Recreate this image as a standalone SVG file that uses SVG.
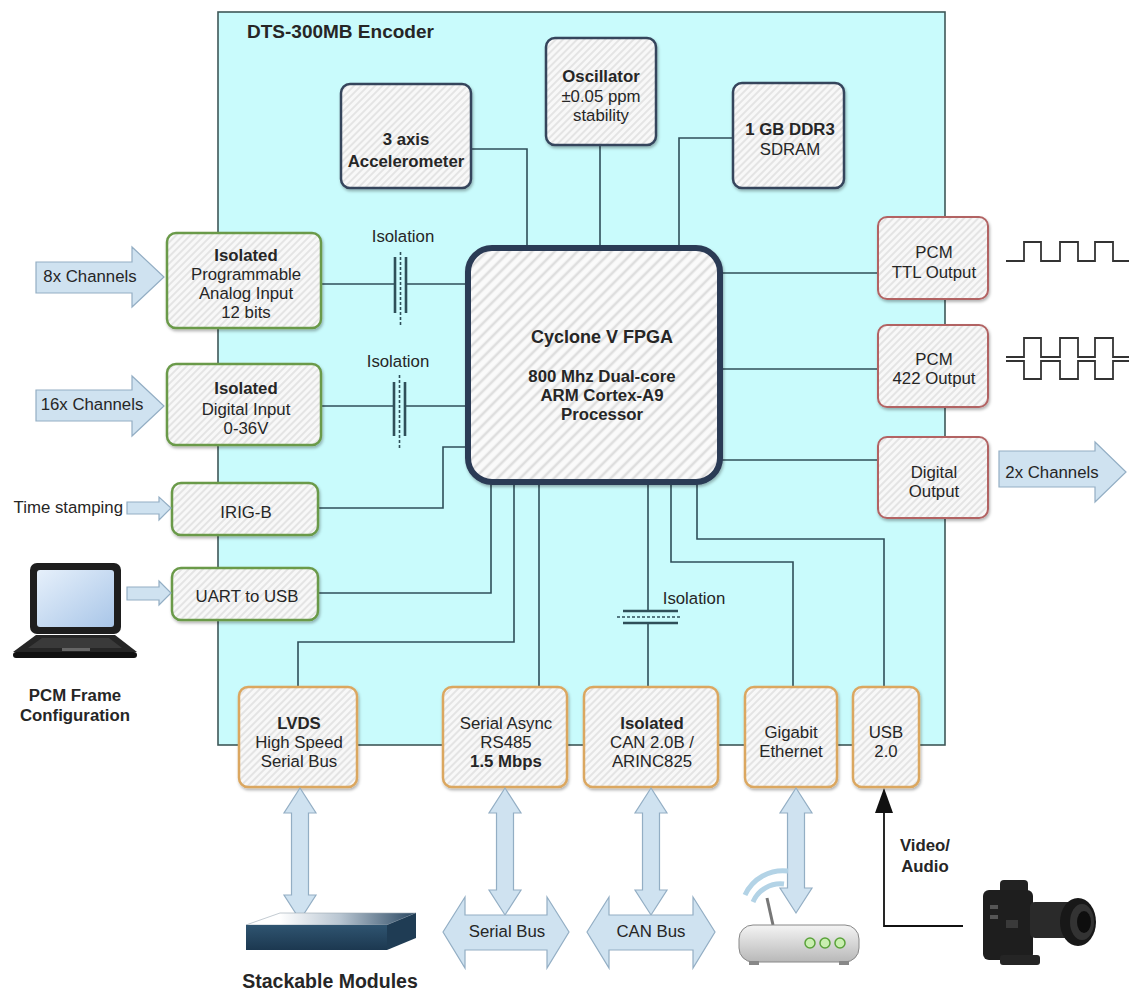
<svg xmlns="http://www.w3.org/2000/svg" width="1129" height="990" viewBox="0 0 1129 990">
<style>
text{font-family:"Liberation Sans",Arial,sans-serif;font-size:16.8px;fill:#262626;text-anchor:middle}
.b{font-weight:bold}
.box{fill:url(#hatch);stroke-width:2.5;filter:url(#sh)}
.top{stroke:#34445c}
.grn{stroke:#6b9a4a}
.red{stroke:#b26464;stroke-width:2}
.org{stroke:#dba760}
.ln{fill:none;stroke:#2f4f59;stroke-width:1.6}
.cap{fill:none;stroke:#2f4f59;stroke-width:2.6}
.dash{fill:none;stroke:#2f4f59;stroke-width:1.6;stroke-dasharray:3 2}
.harr{fill:#cfe2f0;stroke:#93aec4;stroke-width:1.2}
.wave{fill:none;stroke:#333;stroke-width:1.8}
</style>
<defs>
<pattern id="hatch" width="5" height="5" patternUnits="userSpaceOnUse" patternTransform="rotate(45)">
<rect width="5" height="5" fill="#f8f8f8"/><line x1="1" y1="0" x2="1" y2="5" stroke="#dcdcdc" stroke-width="1.4"/>
</pattern>
<pattern id="hatch2" width="8" height="8" patternUnits="userSpaceOnUse" patternTransform="rotate(45)">
<rect width="8" height="8" fill="#fafafa"/><line x1="2" y1="0" x2="2" y2="8" stroke="#dedede" stroke-width="2.6"/>
</pattern>
<filter id="sh" x="-10%" y="-10%" width="125%" height="125%">
<feDropShadow dx="1" dy="2" stdDeviation="1.5" flood-color="#000" flood-opacity="0.3"/>
</filter>
<linearGradient id="scr" x1="0" y1="0" x2="1" y2="1"><stop offset="0" stop-color="#e6f0fb"/><stop offset="1" stop-color="#a9c6e8"/></linearGradient>
<linearGradient id="slabTop" x1="0" y1="0" x2="1" y2="0"><stop offset="0.2" stop-color="#ffffff"/><stop offset="0.55" stop-color="#b9c6d2"/><stop offset="1" stop-color="#2a4862"/></linearGradient>
<linearGradient id="slabFront" x1="0" y1="0" x2="0" y2="1"><stop offset="0" stop-color="#2f5470"/><stop offset="1" stop-color="#1c3850"/></linearGradient>
<linearGradient id="rout" x1="0" y1="0" x2="0" y2="1"><stop offset="0" stop-color="#f4f4f4"/><stop offset="1" stop-color="#b8b8b8"/></linearGradient>
</defs>

<g id="encoder">
<rect x="218" y="12" width="727" height="733" fill="#c9fbfc" stroke="#3f5858" stroke-width="1.6"/>
<text x="247" y="38" class="b" style="text-anchor:start;font-size:19px">DTS-300MB Encoder</text>
</g>

<g id="connectors">
<path class="ln" d="M471,149 H527 V248"/>
<path class="ln" d="M600,145 V248"/>
<path class="ln" d="M733,138 H679 V248"/>
<path class="ln" d="M321,284 H395 M406,284 H468"/>
<path class="cap" d="M395,257 V313 M406,257 V313"/>
<path class="dash" d="M400.5,252 V325"/>
<path class="ln" d="M321,406 H394 M405,406 H468"/>
<path class="cap" d="M394,382 V436 M405,382 V436"/>
<path class="dash" d="M399.5,375 V448"/>
<path class="ln" d="M318,508 H443 V447 H468"/>
<path class="ln" d="M318,593 H491 V482"/>
<path class="ln" d="M514,482 V642 H298 V687"/>
<path class="ln" d="M539,482 V687"/>
<path class="ln" d="M648,482 V611 M648,623 V687"/>
<path class="cap" d="M623,611 H678 M623,623 H678"/>
<path class="dash" d="M617,617 H680"/>
<path class="ln" d="M671,482 V562 H793 V687"/>
<path class="ln" d="M697,482 V539 H884 V687"/>
<path class="ln" d="M720,273 H878"/>
<path class="ln" d="M720,369 H878"/>
<path class="ln" d="M720,460 H878"/>
<text x="403" y="242">Isolation</text>
<text x="398" y="367">Isolation</text>
<text x="694" y="604">Isolation</text>
<path d="M963,926 H884 V812" fill="none" stroke="#111" stroke-width="1.8"/>
<polygon points="884,788 893,813 875,813" fill="#111"/>
</g>

<g id="accelerometer">
<rect class="box top" x="341" y="84" width="130" height="104" rx="9"/>
<text x="406" y="145" class="b">3 axis</text>
<text x="406" y="167" class="b">Accelerometer</text>
</g>
<g id="oscillator">
<rect class="box top" x="546" y="38" width="110" height="107" rx="9"/>
<text x="601" y="82" class="b">Oscillator</text>
<text x="601" y="102">±0.05 ppm</text>
<text x="601" y="121">stability</text>
</g>
<g id="ddr3">
<rect class="box top" x="733" y="83" width="111" height="105" rx="9"/>
<text x="790" y="135" class="b">1 GB DDR3</text>
<text x="790" y="155">SDRAM</text>
</g>
<g id="fpga">
<rect x="468" y="248" width="252" height="234" rx="24" fill="url(#hatch2)" stroke="#2c3a55" stroke-width="6" filter="url(#sh)"/>
<text x="602" y="343" class="b" style="font-size:18px">Cyclone V FPGA</text>
<text x="602" y="382" class="b">800 Mhz Dual-core</text>
<text x="602" y="401" class="b">ARM Cortex-A9</text>
<text x="602" y="420" class="b">Processor</text>
</g>

<g id="analog-input">
<rect class="box grn" x="167" y="233" width="154" height="95" rx="9"/>
<text x="246" y="261" class="b">Isolated</text>
<text x="246" y="280">Programmable</text>
<text x="246" y="299">Analog Input</text>
<text x="246" y="318">12 bits</text>
</g>
<g id="digital-input">
<rect class="box grn" x="167" y="364" width="154" height="81" rx="9"/>
<text x="246" y="394" class="b">Isolated</text>
<text x="246" y="415">Digital Input</text>
<text x="246" y="434">0-36V</text>
</g>
<g id="irig-b">
<rect class="box grn" x="172" y="483" width="146" height="52" rx="9"/>
<text x="246" y="518">IRIG-B</text>
</g>
<g id="uart">
<rect class="box grn" x="172" y="568" width="146" height="52" rx="9"/>
<text x="247" y="602">UART to USB</text>
</g>

<g id="pcm-ttl">
<rect class="box red" x="878" y="217" width="110" height="82" rx="9"/>
<text x="934" y="258">PCM</text>
<text x="934" y="278">TTL Output</text>
</g>
<g id="pcm-422">
<rect class="box red" x="878" y="325" width="110" height="82" rx="9"/>
<text x="934" y="365">PCM</text>
<text x="934" y="384">422 Output</text>
</g>
<g id="digital-output">
<rect class="box red" x="878" y="437" width="110" height="81" rx="9"/>
<text x="934" y="478">Digital</text>
<text x="934" y="497">Output</text>
</g>

<g id="lvds">
<rect class="box org" x="239" y="687" width="118" height="100" rx="9"/>
<text x="299" y="729" class="b">LVDS</text>
<text x="299" y="748">High Speed</text>
<text x="299" y="767">Serial Bus</text>
</g>
<g id="serial-async">
<rect class="box org" x="443" y="687" width="124" height="100" rx="9"/>
<text x="506" y="729">Serial Async</text>
<text x="506" y="748">RS485</text>
<text x="506" y="767" class="b">1.5 Mbps</text>
</g>
<g id="can">
<rect class="box org" x="584" y="687" width="134" height="100" rx="9"/>
<text x="652" y="729" class="b">Isolated</text>
<text x="652" y="748">CAN 2.0B /</text>
<text x="652" y="767">ARINC825</text>
</g>
<g id="gigabit">
<rect class="box org" x="745" y="687" width="92" height="100" rx="9"/>
<text x="791" y="738">Gigabit</text>
<text x="791" y="757">Ethernet</text>
</g>
<g id="usb">
<rect class="box org" x="853" y="687" width="66" height="100" rx="9"/>
<text x="886" y="738">USB</text>
<text x="886" y="757">2.0</text>
</g>

<g id="in-arrows">
<polygon class="harr" points="36,262 132,262 132,247 164,277 132,307 132,293 36,293"/>
<text x="90" y="282">8x Channels</text>
<polygon class="harr" points="36,390 132,390 132,376 164,406 132,436 132,421 36,421"/>
<text x="92" y="410">16x Channels</text>
<polygon class="harr" points="127,502 159,502 159,497 171,508 159,520 159,514 127,514"/>
<text x="123" y="513" style="text-anchor:end">Time stamping</text>
<polygon class="harr" points="127,587 159,587 159,581 171,593 159,605 159,600 127,600"/>
<polygon class="harr" points="999,451 1095,451 1095,442 1126,472 1095,502 1095,487 999,487"/>
<text x="1052" y="478">2x Channels</text>
</g>

<g id="waveforms">
<polyline class="wave" points="1006,261 1024,261 1024,242 1041,242 1041,261 1060,261 1060,242 1078,242 1078,261 1095,261 1095,242 1113,242 1113,261 1129,261"/>
<polyline class="wave" points="1006,357 1024,357 1024,338 1041,338 1041,357 1060,357 1060,338 1078,338 1078,357 1095,357 1095,338 1113,338 1113,357 1129,357"/>
<polyline class="wave" points="1006,361 1024,361 1024,379 1041,379 1041,361 1060,361 1060,379 1078,379 1078,361 1095,361 1095,379 1113,379 1113,361 1129,361"/>
</g>

<g id="bus-arrows">
<path class="harr" d="M300,788 L316,813 L308.5,813 L308.5,895 L316,895 L300,920 L284,895 L291.5,895 L291.5,813 L284,813 Z"/>
<path class="harr" d="M505,788 L521,813 L513.5,813 L513.5,890 L521,890 L505,915 L489,890 L496.5,890 L496.5,813 L489,813 Z"/>
<path class="harr" d="M651,788 L667,813 L659.5,813 L659.5,890 L667,890 L651,915 L635,890 L642.5,890 L642.5,813 L635,813 Z"/>
<path class="harr" d="M796,788 L812,813 L804.5,813 L804.5,888 L812,888 L796,913 L780,888 L787.5,888 L787.5,813 L780,813 Z"/>
<path class="harr" d="M443,932 L465,897 L465,915 L547,915 L547,897 L569,932 L547,968 L547,950 L465,950 L465,968 Z"/>
<text x="507" y="937">Serial  Bus</text>
<path class="harr" d="M587,932 L609,897 L609,915 L693,915 L693,897 L715,932 L693,968 L693,950 L609,950 L609,968 Z"/>
<text x="651" y="937">CAN Bus</text>
</g>

<g id="laptop">
<rect x="30" y="563" width="91" height="71" rx="7" fill="#1e1e1e"/>
<rect x="37" y="570" width="77" height="57" rx="3" fill="url(#scr)"/>
<polygon points="36,635 115,635 137,652 13,652" fill="#262626"/>
<polygon points="42,638 109,638 122,648 28,648" fill="#3a3a3a"/>
<rect x="62" y="648" width="28" height="3" fill="#666"/>
<rect x="13" y="652" width="124" height="6" rx="3" fill="#111"/>
<text x="75" y="701" class="b">PCM  Frame</text>
<text x="75" y="721" class="b">Configuration</text>
</g>

<g id="stackable">
<polygon points="246,925 280,913 416,913 387,925" fill="url(#slabTop)" stroke="#9aa8b4" stroke-width="0.6"/>
<rect x="246" y="925" width="141" height="25" fill="url(#slabFront)"/>
<polygon points="387,925 416,913 416,938 387,950" fill="#1f3c54"/>
<text x="330" y="988" class="b" style="font-size:19.5px">Stackable Modules</text>
</g>

<g id="router">
<path d="M745,895 A42 42 0 0 1 788,871" fill="none" stroke="#b3d3e6" stroke-width="5"/>
<path d="M753,902 A30 30 0 0 1 784,884" fill="none" stroke="#b3d3e6" stroke-width="5"/>
<line x1="767" y1="898" x2="773" y2="925" stroke="#777" stroke-width="3"/>
<rect x="739" y="925" width="120" height="37" rx="14" fill="url(#rout)" stroke="#888" stroke-width="1"/>
<rect x="749" y="961" width="10" height="4" fill="#888"/>
<rect x="839" y="961" width="10" height="4" fill="#888"/>
<circle cx="810" cy="943" r="5" fill="#c9efb0" stroke="#5aa23a" stroke-width="1.5"/>
<circle cx="825" cy="943" r="5" fill="#c9efb0" stroke="#5aa23a" stroke-width="1.5"/>
<circle cx="840" cy="943" r="5" fill="#c9efb0" stroke="#5aa23a" stroke-width="1.5"/>
</g>

<g id="camera">
<text x="925" y="851" class="b">Video/</text>
<text x="925" y="872" class="b">Audio</text>
<rect x="1000" y="880" width="28" height="14" rx="4" fill="#222"/>
<rect x="983" y="890" width="50" height="70" rx="6" fill="#1e1e1e"/>
<rect x="1000" y="955" width="40" height="10" rx="3" fill="#252525"/>
<rect x="1030" y="902" width="45" height="36" rx="5" fill="#2a2a2a"/>
<ellipse cx="1078" cy="922" rx="18" ry="24" fill="#181818"/>
<ellipse cx="1082" cy="922" rx="12" ry="18" fill="#333"/>
<ellipse cx="1084" cy="922" rx="7" ry="11" fill="#0e0e0e"/>
<rect x="990" y="905" width="8" height="4" fill="#555"/>
<rect x="990" y="915" width="8" height="4" fill="#555"/>
<rect x="1006" y="920" width="12" height="8" fill="#3a3a3a"/>
</g>
</svg>
